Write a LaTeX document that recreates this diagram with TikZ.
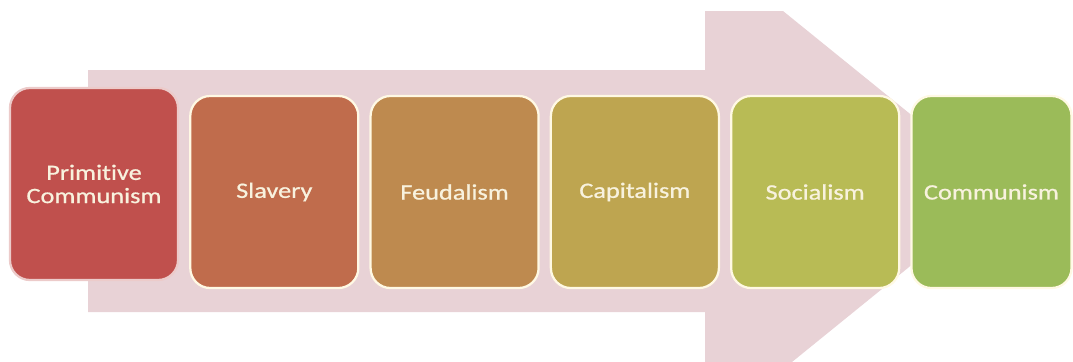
\documentclass[tikz,border=0pt]{standalone}
\usepackage{fontspec}
\setmainfont{Carlito}[FakeStretch=1.2, FakeBold=0.8, Ligatures=NoCommon]
\usetikzlibrary{positioning}
\usepackage{xcolor}

\definecolor{arrowpink}{RGB}{232,210,214}
\definecolor{edgecream}{RGB}{255,249,228}
\definecolor{textcream}{RGB}{248,242,222}
\definecolor{primred}{RGB}{192,80,77}
\definecolor{slavered}{RGB}{192,108,76}
\definecolor{feudbrown}{RGB}{190,138,79}
\definecolor{capitgold}{RGB}{190,165,80}
\definecolor{socialolive}{RGB}{184,187,85}
\definecolor{commungreen}{RGB}{155,187,89}

\begin{document}
\begin{tikzpicture}[
        x=0.025cm, y=-0.025cm,
        node distance=0.25cm,
        stage/.style={rectangle, draw=edgecream, line width=1.6pt, rounded corners=0.5cm, minimum width=4.2cm, minimum height=4.8cm, align=center, text=textcream, font=\fontsize{15.6}{16.5}\selectfont}
    ]
        \useasboundingbox (0,0) rectangle (1073,362);

        % the big arrow behind the stages
        \fill [arrowpink] (88,70) -- (705,70) -- (705,11) -- (783,11) -- (1004,190)
            -- (792,362) -- (705,362) -- (705,312) -- (88,312) -- cycle;

        \node [stage, fill=primred, draw=primred!30!white] (prim) at (94,184) {Primitive\\Communism};
        \node [stage, fill=slavered, right=of prim, yshift=-0.2cm] (slave) {Slavery};
        \node [stage, fill=feudbrown, right=of slave] (feud) {Feudalism};
        \node [stage, fill=capitgold, right=of feud] (capit) {Capitalism};
        \node [stage, fill=socialolive, right=of capit] (social) {Socialism};
        \node [stage, fill=commungreen, minimum width=4cm, right=of social] (commun) {Communism};
    \end{tikzpicture}
\end{document}
